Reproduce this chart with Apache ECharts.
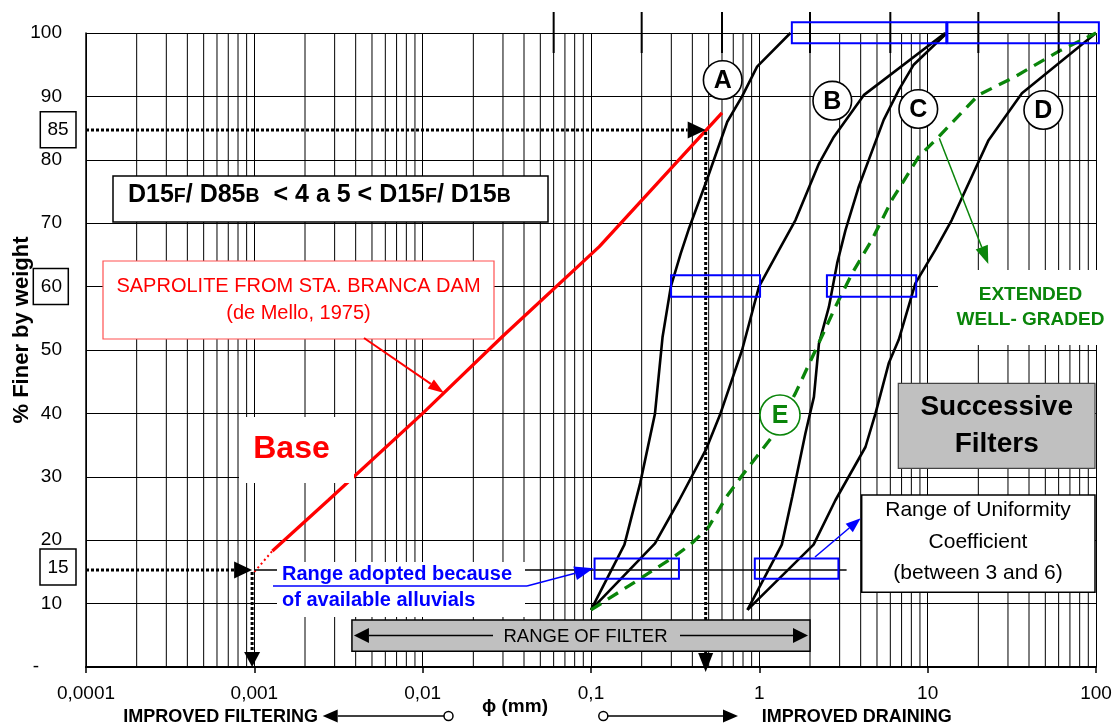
<!DOCTYPE html>
<html><head><meta charset="utf-8">
<script src="https://cdn.jsdelivr.net/npm/echarts@6/dist/echarts.min.js"></script>
<style>html,body{margin:0;padding:0;background:#fff}#c{width:1115px;height:726px}</style>
</head><body><div id="c"></div>
<script>
const FONT = '"Liberation Sans", Arial, Helvetica, sans-serif';

// ---- data ----
const xTickLabels = ['0,0001', '0,001', '0,01', '0,1', '1', '10', '100'];
const sieveTicks = [0.06, 0.2, 0.6, 2, 6, 20, 60];
const baseDotted = [[0.001, 15], [0.00128, 18.3]];
const baseCurve = [[0.00128, 18.3], [0.00275, 26.3], [0.01, 40], [0.03, 52.2], [0.112, 66.3], [0.48, 84.6], [0.6, 87.4]];
const curveA = [[0.1, 9], [0.158, 19.3], [0.196, 29], [0.24, 40], [0.266, 52], [0.298, 60], [0.341, 65.2], [0.38, 69], [0.48, 76.3], [0.645, 86], [0.79, 90], [0.97, 94.7], [1.53, 100]];
const curveB = [[0.1, 9], [0.24, 19.5], [0.334, 26.3], [0.48, 34.2], [0.588, 40], [0.79, 50], [0.995, 60], [1.31, 65.8], [1.64, 70.5], [2.26, 79.4], [2.77, 83.6], [4.17, 90.2], [12.7, 100]];
const curveC = [[0.85, 9], [1.36, 19.3], [1.57, 26.9], [1.88, 36.9], [2.11, 42.6], [2.26, 51], [2.59, 56.8], [2.9, 63.7], [3.25, 68.9], [3.9, 75.8], [5.48, 86.3], [6.73, 91], [8.26, 95], [13, 100]];
const curveD = [[0.85, 9], [2.1, 19.3], [2.83, 26.3], [4.27, 34.7], [4.9, 40], [5.87, 47.9], [6.73, 51.6], [8.45, 60.5], [11.1, 65.8], [13.9, 70.5], [23, 83.1], [36.3, 90.5], [100, 100]];
const curveE = [[0.1, 9], [0.195, 13.9], [0.3, 17.1], [0.39, 19.3], [0.5, 22.1], [0.64, 26.9], [0.79, 30.2], [1.19, 36.3], [1.64, 43.2], [2.16, 50], [2.83, 56.8], [3.56, 62.1], [4.67, 67.4], [6.14, 73.7], [8.85, 80.5], [11.6, 83.6], [20, 90.2], [33, 93.1], [60, 97.1], [100, 100]];
// range boxes [xFrom, xTo, yFrom, yTo]
const topBoxes = [[1.56, 12.9, 98.4, 101.7], [13.1, 104, 98.4, 101.7]];
const midBoxes = [[0.299, 1.01, 58.4, 61.8], [2.52, 8.55, 58.4, 61.8]];
const lowBoxes = [[0.105, 0.333, 13.9, 17.1], [0.94, 2.95, 13.9, 17.1]];
const filterRange = [0.0038, 2.0, 2.5, 7.4];
const d85Base = [0.48, 84.7];
const d15Base = [0.00097, 15.3];
const line15 = [0.001, 3.3, 15.3];

const chart = echarts.init(document.getElementById('c'));

function lineSeries(data, color, width, type) {
  return {type: 'line', data: data, symbol: 'none', clip: false, z: 3, silent: true,
    lineStyle: {color: color, width: width, type: type || 'solid'}};
}

chart.setOption({
  animation: false,
  grid: {left: 86, right: 19, top: 33, bottom: 59},
  xAxis: {
    type: 'log', logBase: 10, min: 1e-4, max: 100, splitNumber: 6,
    axisLine: {show: true, onZero: false, lineStyle: {color: '#000', width: 2}},
    axisTick: {show: true, length: 6, lineStyle: {color: '#000', width: 1.5}},
    axisLabel: {color: '#000', fontSize: 19, fontFamily: FONT, margin: 17,
      formatter: v => xTickLabels[Math.round(Math.log10(v)) + 4]},
    splitLine: {show: true, lineStyle: {color: '#000', width: 1}}
  },
  yAxis: {
    type: 'value', min: 0, max: 100, interval: 10,
    axisLine: {show: true, lineStyle: {color: '#000', width: 1.5}},
    axisTick: {show: false},
    axisLabel: {color: '#000', fontSize: 19, fontFamily: FONT, margin: 24,
      formatter: v => v === 0 ? '{d|-}' : String(v),
      rich: {d: {padding: [0, 23, 0, 0], fontSize: 19, fontFamily: FONT, color: '#000'}}},
    splitLine: {show: true, lineStyle: {color: '#000', width: 1}}
  },
  series: [
    lineSeries(baseDotted, '#ff0000', 2, [2, 3]),
    lineSeries(baseCurve, '#ff0000', 3.3),
    lineSeries(curveA, '#000', 2.6),
    lineSeries(curveB, '#000', 2.6),
    lineSeries(curveC, '#000', 2.6),
    lineSeries(curveD, '#000', 2.6),
    lineSeries(curveE, '#0a850a', 3.3, [12, 8])
  ]
});

const P = (x, y) => chart.convertToPixel({gridIndex: 0}, [x, y]);
const G = [];
function ln(x1, y1, x2, y2, color, w, z, dash) {
  G.push({type: 'line', z: z, silent: true, shape: {x1, y1, x2, y2},
    style: {stroke: color, lineWidth: w, lineDash: dash || null}});
}
function arrow(x1, y1, x2, y2, color, w, L, W, z, dash) {
  const dx = x2 - x1, dy = y2 - y1, d = Math.hypot(dx, dy), ux = dx / d, uy = dy / d;
  const bx = x2 - ux * L, by = y2 - uy * L, px = -uy * W / 2, py = ux * W / 2;
  ln(x1, y1, bx, by, color, w, z, dash);
  G.push({type: 'polygon', z: z, silent: true, shape: {points: [[x2, y2], [bx + px, by + py], [bx - px, by - py]]}, style: {fill: color}});
}
function rect(x, y, w, h, fill, stroke, lw, z) {
  G.push({type: 'rect', z: z, silent: true, shape: {x, y, width: w, height: h},
    style: {fill: fill || 'none', stroke: stroke || 'none', lineWidth: lw || 0}});
}
function txt(x, y, text, font, color, z, align, lh) {
  G.push({type: 'text', z: z, silent: true, style: {x, y, text, font, fill: color,
    textAlign: align || 'center', textVerticalAlign: 'middle', lineHeight: lh || null}});
}
function circ(cx, cy, r, letter, color) {
  G.push({type: 'circle', z: 14, silent: true, shape: {cx, cy, r}, style: {fill: '#fff', stroke: color, lineWidth: 1.6}});
  txt(cx, cy + 1, letter, 'bold 25px ' + FONT, color, 15);
}

// minor log grid lines (2..9 in each decade)
for (let e = -4; e < 2; e++) {
  for (let k = 2; k <= 9; k++) {
    const v = k * Math.pow(10, e);
    const a = P(v, 100), b = P(v, 0);
    ln(a[0], a[1], b[0], b[1], '#000', 1, 1);
  }
}
// sieve boundary ticks crossing the top border
sieveTicks.forEach(v => { const a = P(v, 100); ln(a[0], a[1] - 21, a[0], a[1] + 20, '#000', 2, 6); });

// white backgrounds
rect(239, 417, 115, 66, '#fff', null, 0, 9);
rect(277, 562, 248, 55, '#fff', null, 0, 9);
rect(938, 270, 160, 75, '#fff', null, 0, 9);

// dotted D85 / D15 guides
{
  const a = P(1e-4, d85Base[1]), b = P(d85Base[0], d85Base[1]), c = P(d85Base[0], -0.8);
  arrow(a[0], a[1], b[0], b[1], '#000', 3, 18, 17, 10, [3, 2]);
  arrow(b[0], b[1] + 2, c[0], c[1], '#000', 3, 19, 15, 10, [3, 2]);
  const a2 = P(1e-4, d15Base[1]), b2 = P(d15Base[0], d15Base[1]), c2 = P(d15Base[0], 0);
  arrow(a2[0], a2[1], b2[0], b2[1], '#000', 3, 18, 17, 10, [3, 2]);
  arrow(b2[0], b2[1] + 2, c2[0], c2[1], '#000', 3, 15, 16, 10, [3, 2]);
  const l1 = P(line15[0], line15[2]), l2 = P(line15[1], line15[2]);
  ln(l1[0], l1[1], l2[0], l2[1], '#000', 1.5, 8);
}

// range of filter box
{
  const a = P(filterRange[0], filterRange[3]), b = P(filterRange[1], filterRange[2]);
  rect(a[0], a[1], b[0] - a[0], b[1] - a[1], '#c0c0c0', '#000', 1.5, 11);
  const cy = (a[1] + b[1]) / 2;
  arrow(493, cy, a[0] + 2, cy, '#000', 1.5, 15, 15, 12);
  arrow(680, cy, b[0] - 2, cy, '#000', 1.5, 15, 15, 12);
  txt(585.5, cy + 1, 'RANGE OF FILTER', '18.5px ' + FONT, '#000', 12);
}

// blue boxes
[].concat(topBoxes, midBoxes, lowBoxes).forEach(bx => {
  const a = P(bx[0], bx[3]), b = P(bx[1], bx[2]);
  rect(a[0], a[1], b[0] - a[0], b[1] - a[1], null, '#0000ff', 2, 11);
});

// y-axis extra labels and boxes
{
  const p60 = P(1e-4, 60);
  rect(33.3, p60[1] - 18, 35, 36, null, '#000', 1.5, 11);
  rect(40.3, 111.7, 35.7, 36, '#fff', '#000', 1.5, 11);
  txt(58, 130, '85', '19px ' + FONT, '#000', 12);
  rect(40, 549, 36, 36, '#fff', '#000', 1.5, 11);
  txt(58, 567.5, '15', '19px ' + FONT, '#000', 12);
}
// y-axis title
G.push({type: 'text', z: 12, silent: true, x: 22, y: 330, rotation: Math.PI / 2,
  style: {x: 0, y: 0, text: '% Finer by weight', font: 'bold 22px ' + FONT, fill: '#000', textAlign: 'center', textVerticalAlign: 'middle'}});

// D15 criterion box
rect(113, 176, 435, 46, '#fff', '#000', 1.5, 12);
G.push({type: 'text', z: 13, silent: true, style: {x: 128, y: 194,
  text: '{n|D15}{s|F}{n|/ D85}{s|B}{n|  < 4 a 5 < D15}{s|F}{n|/ D15}{s|B}',
  textAlign: 'left', textVerticalAlign: 'middle',
  rich: {n: {fontSize: 25, fontWeight: 'bold', fontFamily: FONT, fill: '#000', lineHeight: 27, verticalAlign: 'bottom'},
         s: {fontSize: 19.5, fontWeight: 'bold', fontFamily: FONT, fill: '#000', lineHeight: 27, verticalAlign: 'bottom', padding: [0, 0, 1, 0]}}}});

// saprolite label
rect(103, 261, 391, 78, '#fff', '#ff5050', 1.2, 12);
txt(298.5, 299.5, 'SAPROLITE FROM STA. BRANCA DAM\n(de Mello, 1975)', '20px ' + FONT, '#ff0000', 13, 'center', 27);
arrow(364, 338, 444, 393, '#ff0000', 2, 16, 11, 13);
txt(291.5, 449, 'Base', 'bold 32px ' + FONT, '#ff0000', 13);

// range adopted label
txt(282, 574, 'Range adopted because', 'bold 20px ' + FONT, '#0000ff', 13, 'left');
txt(282, 600, 'of available alluvials', 'bold 20px ' + FONT, '#0000ff', 13, 'left');
ln(273, 586, 527, 586, '#0000ff', 1.5, 13);
arrow(527, 586, 593.5, 568.3, '#0000ff', 1.5, 19, 14, 13);

// uniformity box
rect(861.7, 495, 233.3, 97.3, '#fff', '#000', 1.5, 12);
txt(978, 542, 'Range of Uniformity\nCoefficient\n(between 3 and 6)', '21px ' + FONT, '#000', 13, 'center', 31.3);
arrow(815, 557, 860.7, 518.3, '#0000ff', 1.5, 15, 11, 13);

// successive filters
rect(898.3, 383.3, 196.7, 85, '#c0c0c0', '#444', 1.2, 12);
txt(996.7, 425.5, 'Successive\nFilters', 'bold 28px ' + FONT, '#000', 13, 'center', 36.6);

// extended well-graded
txt(1030.5, 307, 'EXTENDED\nWELL- GRADED', 'bold 19px ' + FONT, '#0a850a', 13, 'center', 25.3);
arrow(939.3, 138.3, 988.3, 264, '#0a850a', 1.5, 18, 13, 13);

// circled curve labels
circ(722.7, 80, 19.3, 'A', '#000');
circ(832.3, 100.7, 19.3, 'B', '#000');
circ(918.3, 109, 19.3, 'C', '#000');
circ(1043.3, 110, 19.3, 'D', '#000');
circ(780, 415, 20, 'E', '#0a850a');

// bottom legend texts
txt(482, 707, '\u03d5 (mm)', 'bold 19px ' + FONT, '#000', 13, 'left');
txt(318, 717, 'IMPROVED FILTERING', 'bold 18px ' + FONT, '#000', 13, 'right');
arrow(444, 716, 322.7, 716, '#000', 1.5, 15, 13, 13);
G.push({type: 'circle', z: 14, silent: true, shape: {cx: 448.5, cy: 716, r: 4.5}, style: {fill: '#fff', stroke: '#000', lineWidth: 1.5}});
txt(761.7, 717, 'IMPROVED DRAINING', 'bold 18px ' + FONT, '#000', 13, 'left');
arrow(607, 716, 738, 716, '#000', 1.5, 15, 13, 13);
G.push({type: 'circle', z: 14, silent: true, shape: {cx: 603.3, cy: 716, r: 4.5}, style: {fill: '#fff', stroke: '#000', lineWidth: 1.5}});

chart.setOption({graphic: {elements: G}});
</script>
</body></html>
